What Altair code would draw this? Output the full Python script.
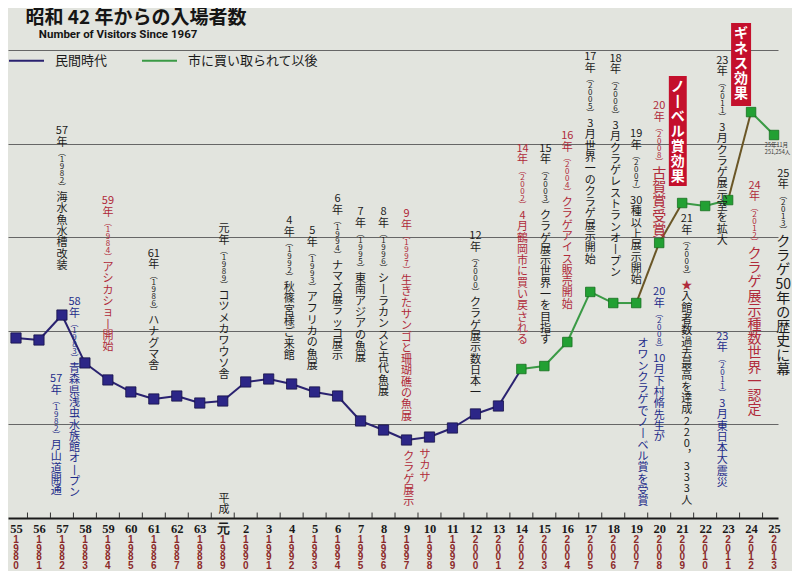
import altair as alt
import pandas as pd

# ---------------- data ----------------
years = list(range(1980, 2014))
visitors = [115400, 114100, 130100, 99400, 88500, 80800, 76300, 78200, 73700, 75000,
            87200, 89100, 85900, 80800, 78200, 62200, 56400, 50000, 51900, 57700,
            66700, 71800, 95500, 97400, 112800, 144900, 137800, 137800, 176300, 201900,
            200000, 203800, 260200, 245500]
period_names = ["民間時代", "市に買い取られて以後"]
city_purchase_year = 2002
effect_start_years = [2007, 2008, 2011]   # jumps from the Nobel / Guinness effects

# events: x (year), top (visitors level), head, year in parentheses, body, category, large body
events = [
    (1982.0, 251900, "57年", "1982", "海水魚水槽改装", "aq", False),
    (1984.0, 207000, "59年", "1984", "アシカショー開始", "hl", False),
    (1986.0, 173100, "61年", "1986", "ハナグマ舎", "aq", False),
    (1989.05, 189100, "元年", "1989", "コツメカワウソ舎", "aq", False),
    (1982.55, 142300, "58年", "1983", "青森県浅虫水族館オープン", "ext", False),
    (1981.75, 92900, "57年", "1982", "月山道開通", "ext", False),
    (1991.9, 194200, "4年", "1992", "秋篠宮様　ご来館", "aq", False),
    (1992.9, 187800, "5年", "1993", "アフリカの魚展", "aq", False),
    (1994.0, 208300, "6年", "1994", "ナマズ展　ラッコ展示", "aq", False),
    (1995.0, 200000, "7年", "1995", "東南アジアの魚展", "aq", False),
    (1996.0, 200000, "8年", "1996", "シーラカンスと古代魚展", "aq", False),
    (1997.0, 198700, "9年", "1997", "生きたサンゴと珊瑚礁の魚展", "hl", False),
    (2000.0, 184600, "12年", "2000", "クラゲ展示数日本一", "aq", False),
    (2002.05, 240400, "14年", "2002", "4月　鶴岡市に買い戻される", "hl", False),
    (2003.05, 240400, "15年", "2003", "クラゲ展示世界一を目指す", "aq", False),
    (2004.0, 248700, "16年", "2004", "クラゲアイス販売開始", "hl", False),
    (2005.0, 299300, "17年", "2005", "3月　世界一のクラゲ展示開始", "aq", False),
    (2006.1, 298100, "18年", "2006", "3月　クラゲレストランオープン", "aq", False),
    (2007.0, 250000, "19年", "2007", "30種以上展示開始", "aq", False),
    (2008.0, 267900, "20年", "2008", "古賀賞受賞", "hl", True),
    (2010.75, 296800, "23年", "2011", "3月　クラゲ展示室を拡大", "aq", False),
    (2012.15, 216700, "24年", "2012", "クラゲ展示種数世界一認定", "hl", True),
    (2013.4, 224400, "25年", "2013", "クラゲ50年の歴史に幕", "aq", True),
    (2009.2, 195500, "21年", "2009", "　入館者数過去最高を達成220,333人", "aq", False),
    (2008.0, 148700, "20年", "2008", "10月　下村脩先生が", "ext", False),
    (2010.75, 119900, "23年", "2011", "3月　東日本大震災", "ext", False),
]
plain_notes = [
    (1997.8, 44200, "サカサ", "hl"),
    (1997.1, 42900, "クラゲ展示", "hl"),
    (2007.3, 115400, "オワンクラゲでノーベル賞を受賞", "ext"),
    (1989.05, 16000, "平成", "aq"),
    (2009.2, 152600, "★", "hl"),
]
boxes = [
    (2008.42, 2009.2, 283300, 212800, "ノーベル賞効果"),
    (2011.13, 2012.0, 317300, 264100, "ギネス効果"),
]
small_note = (2012.6, 240400, "25年11月\n251,254人")
categories = ["aq", "hl", "ext"]

# ---------------- helpers ----------------
def tate(s):
    """turn a string into vertical (one glyph per line) text"""
    rep = {"ー": "丨", "（": "︵", "）": "︶", ",": "︐", "　": " "}
    out, i = [], 0
    while i < len(s):
        c = s[i]
        if c.isdigit():
            j = i
            while j < len(s) and s[j].isdigit():
                j += 1
            run = s[i:j]
            out.extend([run] if len(run) <= 2 else list(run))
            i = j
            continue
        out.append(rep.get(c, c))
        i += 1
    return "\n".join(out)

# ---------------- tables ----------------
pts = pd.DataFrame({"x": years, "v": visitors})
seg_rows = []
for i in range(len(years) - 1):
    seg_rows.append({
        "x": years[i], "x2": years[i + 1], "v": visitors[i], "v2": visitors[i + 1],
        "period": period_names[0] if years[i] < city_purchase_year else period_names[1],
        "kind": "effect" if years[i] in effect_start_years else "normal"})
segs = pd.DataFrame(seg_rows)

ev = pd.DataFrame(events, columns=["x", "top", "head", "paren", "body", "cat", "big"])
ev["head_v"] = ev["head"].map(tate)
ev["paren_v"] = ev["paren"].map(lambda p: tate("（" + p + "）"))
ev["body_v"] = ev["body"].map(tate)
pl = pd.DataFrame(plain_notes, columns=["x", "top", "txt", "cat"])
pl["txt_v"] = pl["txt"].map(tate)
bx = pd.DataFrame(boxes, columns=["x1", "x2", "top", "bottom", "label"])
bx["xm"] = (bx["x1"] + bx["x2"]) / 2
bx["label_v"] = bx["label"].map(tate)
nt = pd.DataFrame([small_note], columns=["x", "top", "txt"])
wy = pd.DataFrame({"x": years, "txt": ["\n".join(str(y)) for y in years]})
tk = pd.DataFrame({"x": [y + 0.5 for y in years[:-1]], "v": 0, "v2": 3500})

# ---------------- styling ----------------
W, H = 770, 468
JP = "Noto Sans CJK JP"
BLUE_LINE, BLUE_PT = "#2a2270", "#2c2687"
GREEN_LINE, GREEN_PT = "#3a9a45", "#22a033"
BROWN = "#6a5626"
BG = "#e2e4de"

xs = alt.Scale(domain=[1979.652, 2013.172], nice=False, zero=False)
ys = alt.Scale(domain=[0, 300000], nice=False, zero=True)
fill_scale = alt.Scale(domain=categories, range=["#1b1b1b", "#b02a3a", "#1e2c8a"])

era_expr = ("datum.value < 1989 ? '' + (datum.value - 1925) : "
            "(datum.value == 1989 ? '元' : '' + (datum.value - 1988))")
x_axis = alt.Axis(values=years, labelExpr=era_expr, title=None, grid=False, ticks=False,
                  domainColor="#1a1a1a", domainWidth=2, labelFont="Liberation Serif",
                  labelFontSize=12.5, labelFontWeight="bold", labelColor="#1a1a1a",
                  labelPadding=4, labelFlush=False, labelOverlap=False)
y_axis = alt.Axis(values=[60000, 120000, 180000, 240000, 300000], title=None, labels=False,
                  ticks=False, domain=False, grid=True, gridColor="#666666", gridWidth=1)

def X(f):
    return alt.X(f, type="quantitative", scale=xs, axis=x_axis)

def Y(f):
    return alt.Y(f, type="quantitative", scale=ys, axis=y_axis)

# ---------------- layers ----------------
line_normal = alt.Chart(segs).transform_filter("datum.kind == 'normal'").mark_rule(strokeWidth=2).encode(
    x=X("x"), x2="x2:Q", y=Y("v"), y2="v2:Q",
    color=alt.Color("period:N", scale=alt.Scale(domain=period_names, range=[BLUE_LINE, GREEN_LINE]),
                    legend=alt.Legend(title=None, orient="none", legendX=0, legendY=-8,
                                      direction="horizontal", symbolType="stroke", symbolSize=1225,
                                      symbolStrokeWidth=2, labelFont=JP, labelFontSize=13,
                                      labelColor="#1a1a1a", columnPadding=30, labelOffset=10,
                                      padding=0)))
line_effect = alt.Chart(segs).transform_filter("datum.kind == 'effect'").mark_rule(
    strokeWidth=2, color=BROWN).encode(x=X("x"), x2="x2:Q", y=Y("v"), y2="v2:Q")

pts_priv = alt.Chart(pts).transform_filter(f"datum.x < {city_purchase_year}").mark_square(
    size=105, opacity=1, color=BLUE_PT, stroke="#171247", strokeWidth=0.8).encode(x=X("x"), y=Y("v"))
pts_city = alt.Chart(pts).transform_filter(f"datum.x >= {city_purchase_year}").mark_square(
    size=90, opacity=1, color=GREEN_PT, stroke="#16701f", strokeWidth=0.8).encode(x=X("x"), y=Y("v"))

ticks = alt.Chart(tk).mark_rule(color="#333333", strokeWidth=1).encode(x=X("x"), y=Y("v"), y2="v2:Q")

fill_enc = alt.Fill("cat:N", scale=fill_scale, legend=None)
txt_common = dict(align="center", baseline="top", lineBreak="\n", font=JP)

heads = alt.Chart(ev).mark_text(fontSize=11, lineHeight=11.5, **txt_common).encode(
    x=X("x"), y=Y("top"), text="head_v:N", fill=fill_enc)
parens = alt.Chart(ev).mark_text(fontSize=8, lineHeight=7, dy=24, **txt_common).encode(
    x=X("x"), y=Y("top"), text="paren_v:N", fill=fill_enc)
bodies = alt.Chart(ev).transform_filter("!datum.big").mark_text(
    fontSize=11, lineHeight=11.3, dy=67, **txt_common).encode(
    x=X("x"), y=Y("top"), text="body_v:N", fill=fill_enc)
bodies_big = alt.Chart(ev).transform_filter("datum.big").mark_text(
    fontSize=14, lineHeight=14.2, dy=67, **txt_common).encode(
    x=X("x"), y=Y("top"), text="body_v:N", fill=fill_enc)
plains = alt.Chart(pl).mark_text(fontSize=11, lineHeight=11.3, **txt_common).encode(
    x=X("x"), y=Y("top"), text="txt_v:N", fill=fill_enc)

box_rect = alt.Chart(bx).mark_rect(color="#c4102c").encode(
    x=X("x1"), x2="x2:Q", y=Y("top"), y2="bottom:Q")
box_text = alt.Chart(bx).mark_text(fontSize=14, lineHeight=15, dy=4, fontWeight="bold",
                                   color="white", **txt_common).encode(
    x=X("xm"), y=Y("top"), text="label_v:N")

note = alt.Chart(nt).mark_text(fontSize=5.5, lineHeight=7, align="left", baseline="top",
                               lineBreak="\n", font=JP, color="#333333").encode(
    x=X("x"), y=Y("top"), text="txt:N")

west = alt.Chart(wy).mark_text(fontSize=10, lineHeight=8.5, align="center", baseline="top",
                               lineBreak="\n", font="Liberation Sans", fontWeight="bold",
                               color="#8c2a2a").encode(x=X("x"), y=alt.value(H + 17), text="txt:N")

chart = alt.layer(
    line_normal, line_effect, ticks, pts_priv, pts_city,
    heads, parens, bodies, bodies_big, plains, box_rect, box_text, note, west
).properties(
    width=W, height=H, padding=0, background=BG,
    title=alt.TitleParams(
        text="\u200b\u2002昭和 42 年からの入場者数",
        subtitle="\u200b" + "\u00a0" * 8 + "Number of Visitors Since 1967",
        anchor="start", font=JP, fontSize=19, fontWeight="bold", color="#151515",
        subtitleFont="Roboto", subtitleFontSize=11.5, subtitleFontWeight="bold",
        subtitleColor="#151515", subtitlePadding=1, offset=-17, dx=8)
).configure_view(stroke=None)

chart.save("out.html", embed_options={"renderer": "svg", "actions": False})
